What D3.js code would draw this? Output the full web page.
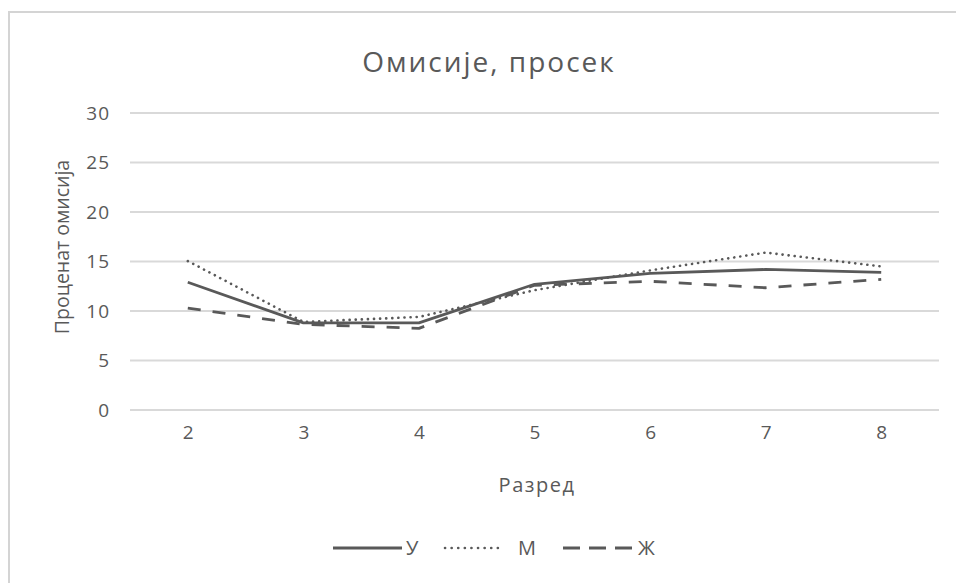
<!DOCTYPE html>
<html>
<head>
<meta charset="utf-8">
<script src="https://cdn.jsdelivr.net/npm/d3@7"></script>
<style>
  html, body { margin: 0; padding: 0; background: #fff; }
  svg { display: block; }
  text { font-family: "Open Sans", "Noto Sans", sans-serif; fill: #595959; }
</style>
</head>
<body>
<svg id="chart" width="956" height="583"></svg>
<script>
// Grades on the x axis
const grades = ["2", "3", "4", "5", "6", "7", "8"];
// Average omission percentage per grade
const seriesU = [12.9, 8.8, 8.8, 12.7, 13.8, 14.2, 13.9];
const seriesM = [15.05, 8.9, 9.4, 12.1, 14.1, 15.9, 14.5];
const seriesZ = [10.3, 8.65, 8.25, 12.6, 13.0, 12.35, 13.2];
const seriesNames = ["У", "М", "Ж"];
const yTicks = [0, 5, 10, 15, 20, 25, 30];

const title = "Омисије, просек";
const xTitle = "Разред";
const yTitle = "Проценат омисија";

const ink = "#595959";
const grid = "#d9d9d9";
const dashes = [null, "0.1 6", "13 12"];
const legendDashes = [null, "0.1 6.5", "17 9"];

const svg = d3.select("#chart");

// chart frame
svg.append("rect")
  .attr("x", 9).attr("y", 12)
  .attr("width", 960).attr("height", 600)
  .attr("fill", "#fff")
  .attr("stroke", "#d4d4d4").attr("stroke-width", 2);

const plot = { left: 130, right: 939, top: 113, bottom: 410 };

const x = d3.scalePoint().domain(grades)
  .range([plot.left, plot.right]).padding(0.5);
const y = d3.scaleLinear().domain([0, 30]).range([plot.bottom, plot.top]);

// horizontal gridlines
svg.append("g").selectAll("line").data(yTicks).join("line")
  .attr("x1", plot.left).attr("x2", plot.right)
  .attr("y1", d => y(d)).attr("y2", d => y(d))
  .attr("stroke", grid).attr("stroke-width", 1.8);

// y axis labels
const yAxis = svg.append("g")
  .attr("transform", `translate(${plot.left - 20},0)`)
  .call(d3.axisLeft(y).tickValues(yTicks).tickSize(0).tickPadding(0));
yAxis.select(".domain").remove();
yAxis.selectAll("text")
  .attr("font-size", 19).attr("fill", ink)
  .attr("letter-spacing", 1)
  .style("font-family", "'Open Sans', sans-serif");

// x axis labels
const xAxis = svg.append("g")
  .attr("transform", `translate(0,${plot.bottom + 15})`)
  .call(d3.axisBottom(x).tickSize(0).tickPadding(0));
xAxis.select(".domain").remove();
xAxis.selectAll("text")
  .attr("font-size", 19).attr("fill", ink).attr("dy", "0.71em")
  .style("font-family", "'Open Sans', sans-serif");

// titles
svg.append("text")
  .attr("x", 489).attr("y", 72)
  .attr("text-anchor", "middle")
  .attr("font-size", 28)
  .attr("letter-spacing", 2)
  .text(title);

svg.append("text")
  .attr("x", 537).attr("y", 492)
  .attr("text-anchor", "middle")
  .attr("font-size", 20)
  .attr("letter-spacing", 1.5)
  .text(xTitle);

svg.append("text")
  .attr("transform", "translate(69,247) rotate(-90)")
  .attr("text-anchor", "middle")
  .attr("font-size", 19.5)
  .text(yTitle);

// series lines
const line = d3.line()
  .x((d, i) => x(grades[i]))
  .y(d => y(d));

const allSeries = [seriesU, seriesM, seriesZ];
allSeries.forEach((vals, k) => {
  svg.append("path")
    .datum(vals)
    .attr("d", line)
    .attr("fill", "none")
    .attr("stroke", ink)
    .attr("stroke-width", k === 1 ? 2.6 : 2.8)
    .attr("stroke-linecap", k === 1 ? "round" : "butt")
    .attr("stroke-linejoin", "round")
    .attr("stroke-dasharray", dashes[k]);
});

// legend
const legendItems = [
  { x0: 333, x1: 402, tx: 406 },
  { x0: 445, x1: 502, tx: 518 },
  { x0: 563, x1: 632, tx: 638 }
];
const legendY = 548;
const lg = svg.append("g");
legendItems.forEach((it, k) => {
  lg.append("line")
    .attr("x1", it.x0).attr("x2", it.x1)
    .attr("y1", legendY).attr("y2", legendY)
    .attr("stroke", ink)
    .attr("stroke-width", k === 1 ? 2.6 : 2.8)
    .attr("stroke-linecap", k === 1 ? "round" : "butt")
    .attr("stroke-dasharray", legendDashes[k]);
  lg.append("text")
    .attr("x", it.tx).attr("y", legendY + 7)
    .attr("font-size", 20)
    .text(seriesNames[k]);
});
</script>
</body>
</html>
